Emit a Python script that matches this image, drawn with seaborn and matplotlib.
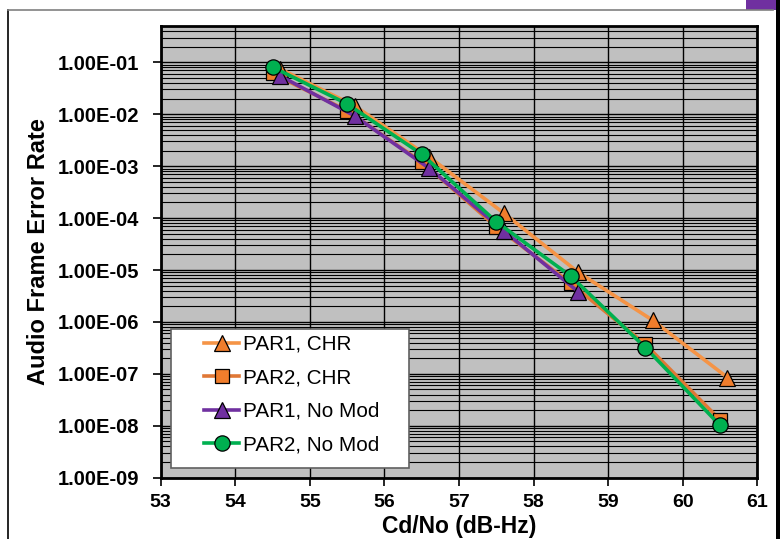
import matplotlib
matplotlib.use("Agg")
import matplotlib.pyplot as plt
import matplotlib.ticker as mticker
from matplotlib.lines import Line2D
from matplotlib.patches import Rectangle
import seaborn as sns
import pandas as pd

# data
x_par1_chr = [54.6, 55.6, 56.6, 57.6, 58.6, 59.6, 60.6]
y_par1_chr = [7.5e-2, 1.45e-2, 1.5e-3, 1.25e-4, 9.0e-6, 1.07e-6, 8.5e-8]

x_par2_chr = [54.5, 55.5, 56.5, 57.5, 58.5, 59.5, 60.5]
y_par2_chr = [6.1e-2, 1.17e-2, 1.2e-3, 6.8e-5, 5.5e-6, 3.7e-7, 1.3e-8]

x_par1_nomod = [54.6, 55.6, 56.6, 57.6, 58.6]
y_par1_nomod = [5.5e-2, 9.3e-3, 9.1e-4, 5.7e-5, 3.8e-6]

x_par2_nomod = [54.5, 55.5, 56.5, 57.5, 58.5, 59.5, 60.5]
y_par2_nomod = [8.1e-2, 1.58e-2, 1.7e-3, 8.5e-5, 7.6e-6, 3.2e-7, 1.02e-8]

series_names = ["PAR1, CHR", "PAR2, CHR", "PAR1, No Mod", "PAR2, No Mod"]
x_ticks = [53, 54, 55, 56, 57, 58, 59, 60, 61]
y_ticks = [1e-9, 1e-8, 1e-7, 1e-6, 1e-5, 1e-4, 1e-3, 1e-2, 1e-1]

df = pd.concat([
    pd.DataFrame({"x": x_par1_chr, "y": y_par1_chr, "series": series_names[0]}),
    pd.DataFrame({"x": x_par2_chr, "y": y_par2_chr, "series": series_names[1]}),
    pd.DataFrame({"x": x_par1_nomod, "y": y_par1_nomod, "series": series_names[2]}),
    pd.DataFrame({"x": x_par2_nomod, "y": y_par2_nomod, "series": series_names[3]}),
])

styles = {
    "PAR1, CHR": dict(color="#F59446", marker="^", mfc="#F07D2C", ms=11),
    "PAR2, CHR": dict(color="#E07836", marker="s", mfc="#F07D2C", ms=9.5),
    "PAR1, No Mod": dict(color="#7030A0", marker="^", mfc="#7030A0", ms=11),
    "PAR2, No Mod": dict(color="#00B050", marker="o", mfc="#00B050", ms=11),
}

plt.rcParams["font.family"] = ["Liberation Sans", "DejaVu Sans"]

W, H = 782, 539
fig = plt.figure(figsize=(W / 100, H / 100), dpi=100)
fig.patch.set_facecolor("white")
L, R, T, B = 160.7, 757.3, 25.7, 477.7
ax = fig.add_axes([L / W, 1 - B / H, (R - L) / W, (B - T) / H])
ax.set_facecolor("#C0C0C0")

for name in series_names:
    st = styles[name]
    sub = df[df["series"] == name]
    sns.lineplot(data=sub, x="x", y="y", ax=ax, color=st["color"], lw=2.6,
                 marker=st["marker"], markersize=st["ms"],
                 markerfacecolor=st["mfc"], markeredgecolor="black",
                 markeredgewidth=0.9, label=name, zorder=3, legend=False)

ax.set_yscale("log")
ax.set_xlim(53, 61)
ax.set_ylim(1e-9, 0.507)
ax.set_xticks(x_ticks)
ax.set_xticklabels([str(v) for v in x_ticks], fontsize=14, fontweight="bold")
ax.yaxis.set_major_locator(mticker.FixedLocator(y_ticks))
ax.yaxis.set_major_formatter(mticker.FuncFormatter(lambda v, p: f"{v:.2E}"))
ax.yaxis.set_minor_locator(mticker.LogLocator(base=10, subs=range(2, 10), numticks=20))
ax.yaxis.set_minor_formatter(mticker.NullFormatter())
for lab in ax.get_yticklabels():
    lab.set_fontsize(14.5)
    lab.set_fontweight("bold")

ax.tick_params(axis="both", which="major", direction="out", length=6, width=1.2,
               color="black")
ax.tick_params(axis="x", which="major", pad=5.5)
ax.tick_params(axis="y", which="major", pad=9.5)
ax.tick_params(axis="y", which="minor", length=0)

ax.grid(True, which="major", axis="both", color="black", lw=1.0)
ax.grid(True, which="minor", axis="y", color="black", lw=0.8)
ax.set_axisbelow(True)
for sp in ax.spines.values():
    sp.set_color("black")
    sp.set_linewidth(2)

ax.set_xlabel("Cd/No (dB-Hz)", fontsize=16.5, fontweight="bold")
ax.set_ylabel("Audio Frame Error Rate", fontsize=17, fontweight="bold")
ax.xaxis.set_label_coords(0.5, (B - 515) / (B - T))
ax.yaxis.set_label_coords((50 - L) / (R - L), 0.5)

# legend box
bx0, bx1, by0, by1 = 170.7, 409, 329, 468
ax.add_patch(Rectangle(((bx0 - L) / (R - L), (B - by1) / (B - T)),
                       (bx1 - bx0) / (R - L), (by1 - by0) / (B - T),
                       transform=ax.transAxes, facecolor="white",
                       edgecolor="#606060", lw=1.2, zorder=4))
handles, labels = ax.get_legend_handles_labels()
leg = ax.legend(handles, labels, loc="upper left",
                bbox_to_anchor=((204 - L) / (R - L), (B - 335) / (B - T)),
                frameon=False, fontsize=14.9, handlelength=1.7,
                handletextpad=0.2, labelspacing=0.7, borderpad=0,
                borderaxespad=0)
leg.set_zorder(5)

# slide frame decorations
fig.add_artist(Line2D([8.3 / W, 8.3 / W], [0, 1 - 9.5 / H], transform=fig.transFigure,
                      color="black", lw=1.2))
fig.add_artist(Line2D([8.3 / W, 773 / W], [1 - 9.5 / H, 1 - 9.5 / H],
                      transform=fig.transFigure, color="#808080", lw=1.2))
fig.add_artist(Rectangle((776 / W, 0), 3.5 / W, 1, transform=fig.transFigure,
                         facecolor="black", edgecolor="none"))
fig.add_artist(Rectangle((746 / W, 1 - 9.5 / H), 30 / W, 9.5 / H,
                         transform=fig.transFigure, facecolor="#7030A0",
                         edgecolor="none"))

fig.savefig("out.png", dpi=100)
